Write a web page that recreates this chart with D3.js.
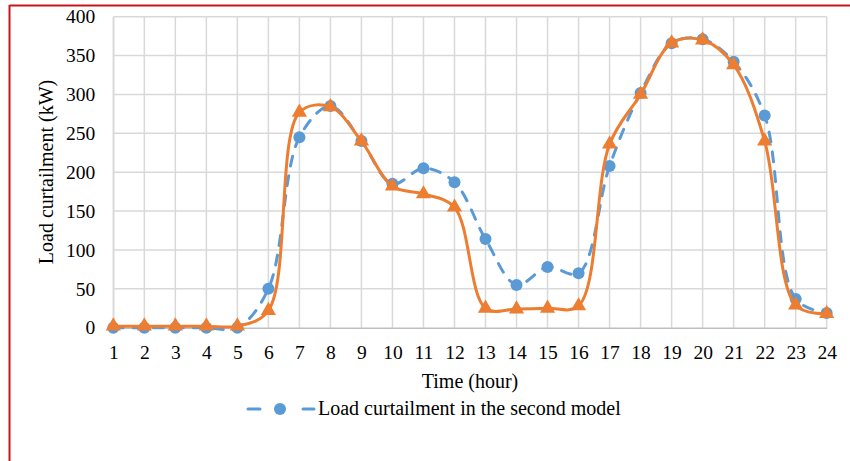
<!DOCTYPE html>
<html>
<head>
<meta charset="utf-8">
<script src="https://cdn.jsdelivr.net/npm/d3@7"></script>
<style>
  html, body { margin: 0; padding: 0; background: #fff; }
  svg { display: block; }
  text { font-family: "Liberation Serif", "Times New Roman", serif; fill: #000; }
</style>
</head>
<body>
<svg id="chart" width="850" height="461"></svg>
<script>
// Hours of the day
const hours = d3.range(1, 25);

// Load curtailment in the second model (kW) – blue dashed series
const secondModel = [0, 0, 0, 0, 0, 50, 245, 285, 240, 185, 205, 187,
                     114, 55, 78, 70, 208, 302, 366, 371, 342, 273, 37, 19];

// Load curtailment, comparison series (kW) – orange solid series
const otherModel = [2, 2, 2, 2, 2, 22, 277, 284, 240, 182, 172, 155,
                    25, 24, 25, 28, 236, 300, 366, 370, 338, 240, 29, 18];

const yTicks = [0, 50, 100, 150, 200, 250, 300, 350, 400];

const legendLabel = "Load curtailment in the second model";
const xTitle = "Time (hour)";
const yTitle = "Load curtailment (kW)";

const svg = d3.select("#chart");
const margin = { left: 113.3, right: 826.7, top: 16.7, bottom: 327.7 };

const x = d3.scaleLinear().domain([1, 24]).range([margin.left, margin.right]);
const y = d3.scaleLinear().domain([0, 400]).range([margin.bottom, margin.top]);

// Frame lines
svg.append("line").attr("x1", 9.5).attr("x2", 850).attr("y1", 5.5).attr("y2", 5.5)
  .attr("stroke", "#c8161d").attr("stroke-width", 2);
svg.append("line").attr("x1", 9.5).attr("x2", 9.5).attr("y1", 5).attr("y2", 461)
  .attr("stroke", "#c8161d").attr("stroke-width", 2);

// Gridlines
const grid = svg.append("g");
grid.selectAll("line.h").data(yTicks.filter(d => d > 0)).join("line")
  .attr("x1", margin.left).attr("x2", margin.right)
  .attr("y1", d => y(d)).attr("y2", d => y(d))
  .attr("stroke", "#d9d9d9").attr("stroke-width", 1.5);
grid.selectAll("line.v").data(hours).join("line")
  .attr("x1", d => x(d)).attr("x2", d => x(d))
  .attr("y1", margin.top).attr("y2", margin.bottom)
  .attr("stroke", "#d9d9d9").attr("stroke-width", 1.5);

// Axes
const xAxis = d3.axisBottom(x).tickValues(hours).tickSize(0).tickPadding(17)
  .tickFormat(d3.format("d"));
const gx = svg.append("g").attr("transform", `translate(0,${margin.bottom})`).call(xAxis);
gx.select(".domain").attr("stroke", "#bfbfbf").attr("stroke-width", 1.5);
gx.selectAll("text").attr("font-size", 19.5).attr("font-family", "Liberation Serif");

const yAxis = d3.axisLeft(y).tickValues(yTicks).tickSize(0).tickPadding(18);
const gy = svg.append("g").attr("transform", `translate(${margin.left},0)`).call(yAxis);
gy.select(".domain").attr("stroke", "#d9d9d9").attr("stroke-width", 1.5);
gy.selectAll("text").attr("font-size", 19.5).attr("font-family", "Liberation Serif");

// Axis titles
svg.append("text").attr("x", 470).attr("y", 388).attr("text-anchor", "middle")
  .attr("font-size", 20).text(xTitle);
svg.append("text").attr("transform", "translate(53,172) rotate(-90)")
  .attr("text-anchor", "middle").attr("font-size", 20).text(yTitle);

const blue = "#5b9bd5", orange = "#ed7d31";
const line = d3.line().x((d, i) => x(hours[i])).y(d => y(d)).curve(d3.curveCatmullRom.alpha(0.5));

// Blue dashed series
svg.append("path").datum(secondModel).attr("d", line)
  .attr("fill", "none").attr("stroke", blue).attr("stroke-width", 3)
  .attr("stroke-dasharray", "10,10").attr("stroke-linecap", "round");
svg.append("g").selectAll("circle").data(secondModel).join("circle")
  .attr("cx", (d, i) => x(hours[i])).attr("cy", d => y(d)).attr("r", 6)
  .attr("fill", blue);

// Orange solid series
svg.append("path").datum(otherModel).attr("d", line)
  .attr("fill", "none").attr("stroke", orange).attr("stroke-width", 3)
  .attr("stroke-linejoin", "round");
const tri = d3.symbol().type(d3.symbolTriangle).size(100);
svg.append("g").selectAll("path").data(otherModel).join("path")
  .attr("d", tri)
  .attr("transform", (d, i) => `translate(${x(hours[i])},${y(d)})`)
  .attr("fill", orange);

// Legend
const lg = svg.append("g");
lg.append("line").attr("x1", 248).attr("x2", 260).attr("y1", 409).attr("y2", 409)
  .attr("stroke", blue).attr("stroke-width", 3).attr("stroke-linecap", "round");
lg.append("line").attr("x1", 303).attr("x2", 314).attr("y1", 409).attr("y2", 409)
  .attr("stroke", blue).attr("stroke-width", 3).attr("stroke-linecap", "round");
lg.append("circle").attr("cx", 280).attr("cy", 409).attr("r", 6).attr("fill", blue);
lg.append("text").attr("x", 318).attr("y", 414.5).attr("font-size", 20).text(legendLabel);
</script>
</body>
</html>
